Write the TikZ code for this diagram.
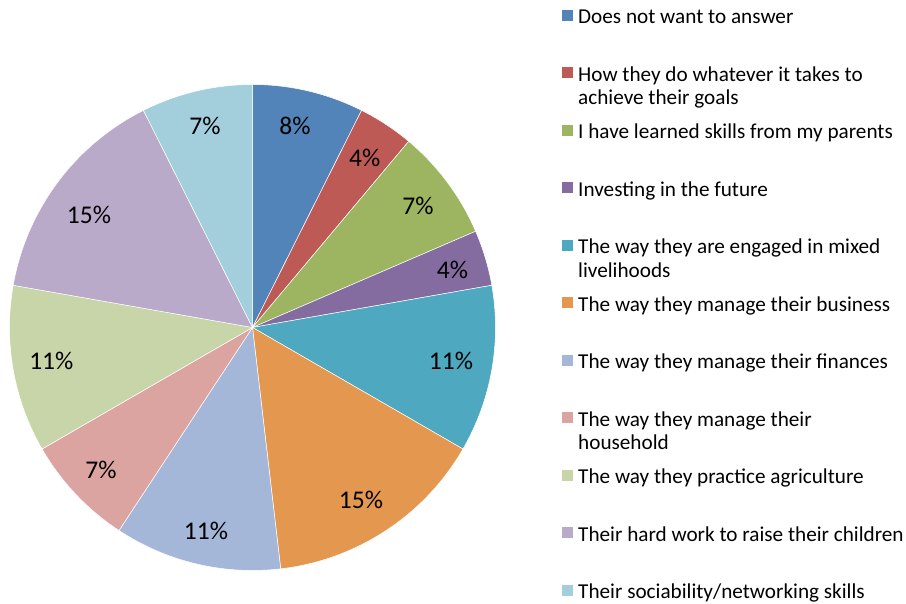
\documentclass[tikz,border=0pt]{standalone}
\usepackage{fontspec}
\setmainfont{Carlito}
\definecolor{cBlue}{RGB}{82,131,185}
\definecolor{cRed}{RGB}{190,90,85}
\definecolor{cGreen}{RGB}{157,180,96}
\definecolor{cPurple}{RGB}{132,108,160}
\definecolor{cAqua}{RGB}{78,168,192}
\definecolor{cOrange}{RGB}{228,151,78}
\definecolor{cLightBlue}{RGB}{164,183,216}
\definecolor{cPink}{RGB}{220,164,160}
\definecolor{cLightGreen}{RGB}{199,213,168}
\definecolor{cLavender}{RGB}{186,170,202}
\definecolor{cLightAqua}{RGB}{163,206,220}
\tikzset{
  slice/.style={draw=white,line width=0.5pt},
  pct/.style={anchor=base,inner sep=0pt,font=\fontsize{25.5}{30}\selectfont},
  key/.style={anchor=base west,inner sep=0pt,align=left,font=\fontsize{21.2}{23.3}\selectfont},
}
\begin{document}
\begin{tikzpicture}[x=1pt,y=1pt]
			\useasboundingbox (0,0) rectangle (906,604);
			\coordinate (c) at (252.5,276.5);
			% slices, clockwise from the top
			\filldraw[slice,fill=cBlue] (c) -- ++(90:243) arc[start angle=90,end angle=63.33,radius=243] -- cycle;
			\filldraw[slice,fill=cRed] (c) -- ++(63.33:243) arc[start angle=63.33,end angle=50,radius=243] -- cycle;
			\filldraw[slice,fill=cGreen] (c) -- ++(50:243) arc[start angle=50,end angle=23.33,radius=243] -- cycle;
			\filldraw[slice,fill=cPurple] (c) -- ++(23.33:243) arc[start angle=23.33,end angle=10,radius=243] -- cycle;
			\filldraw[slice,fill=cAqua] (c) -- ++(10:243) arc[start angle=10,end angle=-30,radius=243] -- cycle;
			\filldraw[slice,fill=cOrange] (c) -- ++(-30:243) arc[start angle=-30,end angle=-83.33,radius=243] -- cycle;
			\filldraw[slice,fill=cLightBlue] (c) -- ++(-83.33:243) arc[start angle=-83.33,end angle=-123.33,radius=243] -- cycle;
			\filldraw[slice,fill=cPink] (c) -- ++(-123.33:243) arc[start angle=-123.33,end angle=-150,radius=243] -- cycle;
			\filldraw[slice,fill=cLightGreen] (c) -- ++(-150:243) arc[start angle=-150,end angle=-190,radius=243] -- cycle;
			\filldraw[slice,fill=cLavender] (c) -- ++(-190:243) arc[start angle=-190,end angle=-243.33,radius=243] -- cycle;
			\filldraw[slice,fill=cLightAqua] (c) -- ++(-243.33:243) arc[start angle=-243.33,end angle=-270,radius=243] -- cycle;
			% percentages
			\node[pct] (p1) at (295,469) {8\%};
			\node[pct] (p2) at (364.7,437.3) {4\%};
			\node[pct] (p3) at (418,389) {7\%};
			\node[pct] (p4) at (452.5,325) {4\%};
			\node[pct] (p5) at (451,234.7) {11\%};
			\node[pct] (p6) at (361,95.7) {15\%};
			\node[pct] (p7) at (206,64) {11\%};
			\node[pct] (p8) at (101,125.7) {7\%};
			\node[pct] (p9) at (51.3,234) {11\%};
			\node[pct] (p10) at (89,380.7) {15\%};
			\node[pct] (p11) at (205,469) {7\%};
			% legend (base of a two-line key is its last line)
			\fill[cBlue] (562,583.2) rectangle ++(11,11);
			\node[key] (k1) at (578,580.2) {Does not want to answer};
			\fill[cRed] (562,525.7) rectangle ++(11,11);
			\node[key] (k2) at (578,499.4) {How they do whatever it takes to\\achieve their goals};
			\fill[cGreen] (562,468.2) rectangle ++(11,11);
			\node[key] (k3) at (578,465.2) {I have learned skills from my parents};
			\fill[cPurple] (562,410.7) rectangle ++(11,11);
			\node[key] (k4) at (578,407.7) {Investing in the future};
			\fill[cAqua] (562,353.2) rectangle ++(11,11);
			\node[key] (k5) at (578,326.9) {The way they are engaged in mixed\\livelihoods};
			\fill[cOrange] (562,295.7) rectangle ++(11,11);
			\node[key] (k6) at (578,292.7) {The way they manage their business};
			\fill[cLightBlue] (562,238.2) rectangle ++(11,11);
			\node[key] (k7) at (578,235.2) {The way they manage their finances};
			\fill[cPink] (562,180.7) rectangle ++(11,11);
			\node[key] (k8) at (578,154.4) {The way they manage their\\household};
			\fill[cLightGreen] (562,123.2) rectangle ++(11,11);
			\node[key] (k9) at (578,120.2) {The way they practice agriculture};
			\fill[cLavender] (562,65.7) rectangle ++(11,11);
			\node[key] (k10) at (578,62.7) {Their hard work to raise their children};
			\fill[cLightAqua] (562,8.2) rectangle ++(11,11);
			\node[key] (k11) at (578,5.2) {Their sociability/networking skills};
		\end{tikzpicture}
\end{document}
